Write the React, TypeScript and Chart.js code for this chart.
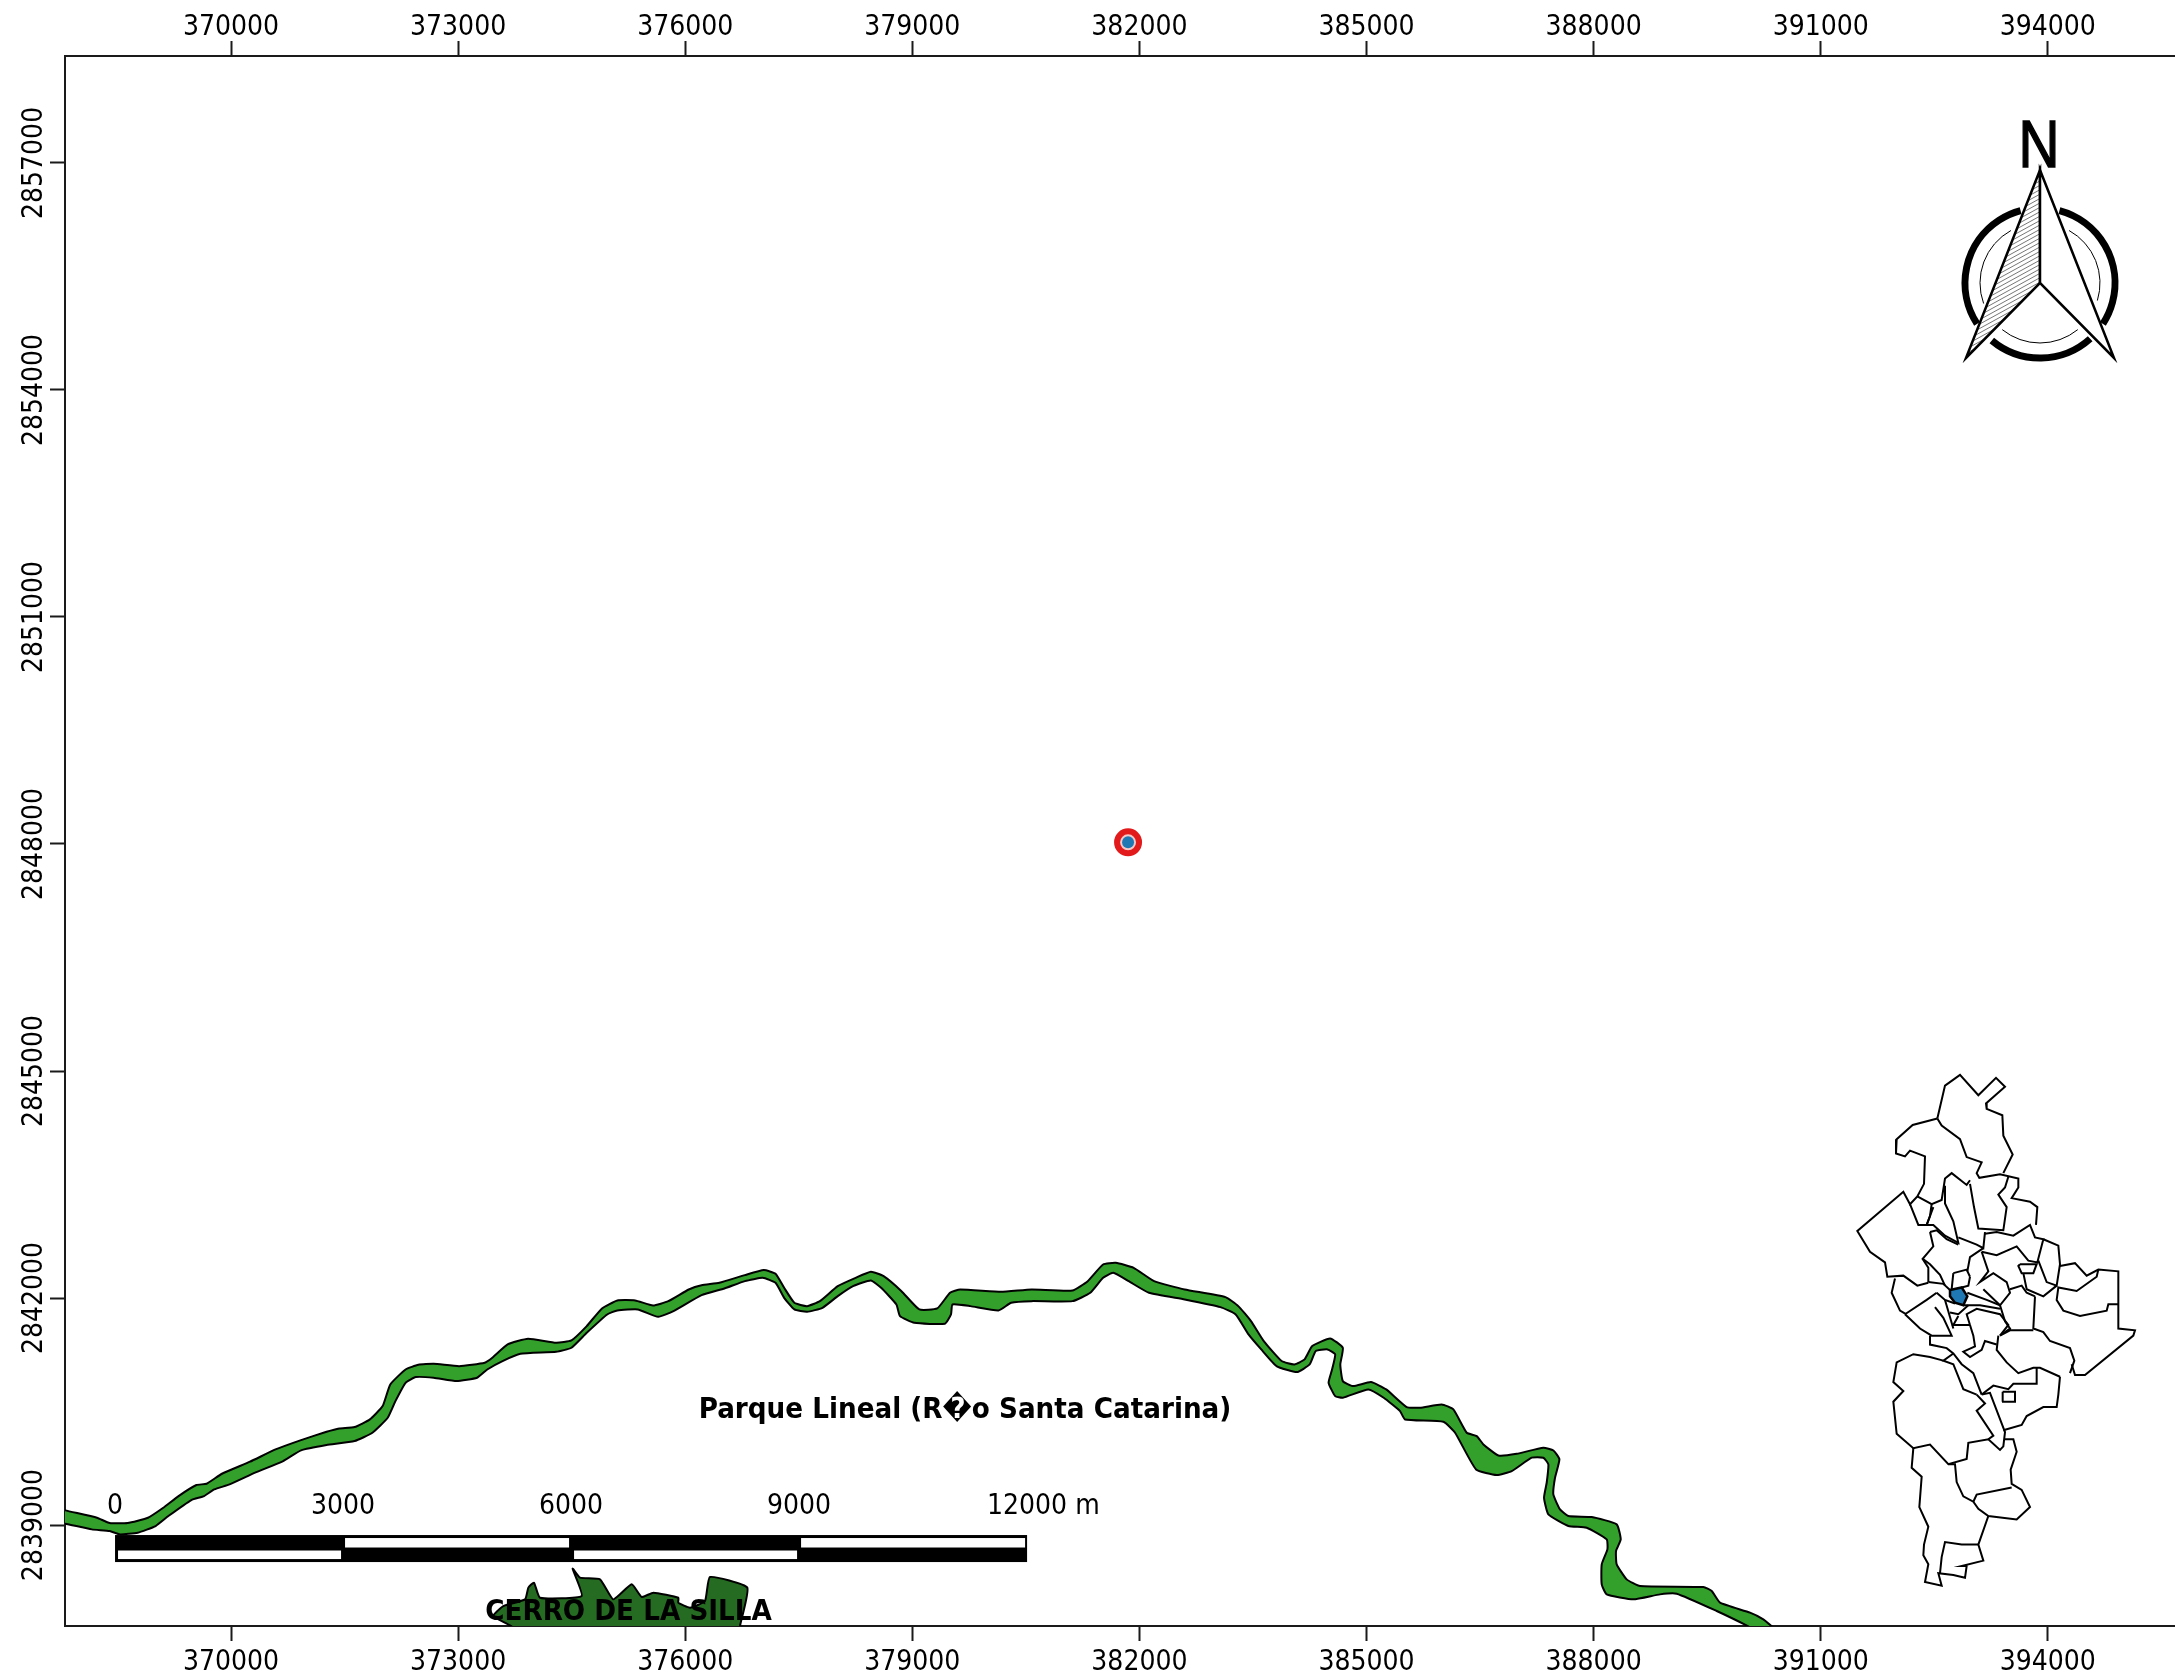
import React, { useEffect, useRef } from "react";
import { Chart, registerables } from "chart.js";

Chart.register(...registerables);

const FONT = '"DejaVu Sans Condensed", "DejaVu Sans", sans-serif';

// UTM easting / northing limits of the map frame
const xRange = [367807, 395680];
const yRange = [2837666, 2858413];
const xTicks = [370000, 373000, 376000, 379000, 382000, 385000, 388000, 391000, 394000];
const yTicks = [2839000, 2842000, 2845000, 2848000, 2851000, 2854000, 2857000];

// Río Santa Catarina, north bank [easting, northing]
const riverNorth = [
  [367700, 2839230], [367811, 2839194], [368229, 2839097], [368397, 2839027], [368633, 2839027], [368903, 2839097],
  [369105, 2839229], [369307, 2839383], [369543, 2839529], [369678, 2839546], [369880, 2839678], [370251, 2839837],
  [370588, 2839999], [370925, 2840123], [371262, 2840233], [371430, 2840277], [371632, 2840295], [371835, 2840396],
  [372003, 2840572], [372104, 2840858], [372306, 2841056], [372475, 2841118], [372677, 2841131], [373014, 2841100],
  [373351, 2841145], [373452, 2841211], [373654, 2841387], [373924, 2841462], [374295, 2841409], [374497, 2841440],
  [374699, 2841629], [374901, 2841862], [375104, 2841968], [375339, 2841968], [375575, 2841902], [375777, 2841959],
  [376047, 2842113], [376216, 2842170], [376451, 2842201], [376788, 2842303], [377038, 2842369], [377193, 2842320],
  [377307, 2842135], [377442, 2841937], [377610, 2841893], [377779, 2841959], [378015, 2842157], [378251, 2842267],
  [378453, 2842347], [378621, 2842289], [378857, 2842091], [379093, 2841849], [379329, 2841862], [379498, 2842069],
  [379632, 2842113], [380172, 2842082], [380576, 2842113], [381115, 2842100], [381317, 2842223], [381520, 2842443],
  [381688, 2842465], [381924, 2842399], [382194, 2842223], [382598, 2842113], [383137, 2842012], [383306, 2841893],
  [383474, 2841695], [383643, 2841431], [383879, 2841167], [384047, 2841123], [384182, 2841189], [384283, 2841365],
  [384519, 2841466], [384687, 2841343], [384654, 2841123], [384687, 2840902], [384822, 2840836], [385058, 2840889],
  [385260, 2840792], [385530, 2840559], [385707, 2840550], [385993, 2840594], [386147, 2840528], [386324, 2840220],
  [386456, 2840176], [386544, 2840066], [386742, 2839920], [386984, 2839942], [387336, 2840022], [387469, 2839986],
  [387548, 2839868], [387490, 2839625], [387468, 2839405], [387556, 2839207], [387666, 2839119], [387975, 2839106],
  [388305, 2839009], [388358, 2838811], [388296, 2838657], [388305, 2838481], [388437, 2838282], [388613, 2838194],
  [389450, 2838181], [389560, 2838128], [389670, 2837974], [390066, 2837842], [390242, 2837754], [390352, 2837662],
  [390462, 2837556],
];

// Río Santa Catarina, south bank [easting, northing]
const riverSouth = [
  [367700, 2839030], [367811, 2839018], [368161, 2838943], [368397, 2838921], [368532, 2838877], [368768, 2838899],
  [369004, 2838987], [369172, 2839119], [369476, 2839331], [369644, 2839383], [369779, 2839471], [369981, 2839537],
  [370318, 2839692], [370689, 2839846], [370925, 2839987], [371262, 2840057], [371632, 2840110], [371868, 2840220],
  [372070, 2840418], [372172, 2840638], [372306, 2840880], [372441, 2840955], [372677, 2840946], [372980, 2840902],
  [373250, 2840946], [373385, 2841056], [373587, 2841167], [373823, 2841263], [374295, 2841290], [374497, 2841343],
  [374699, 2841541], [374969, 2841783], [375104, 2841836], [375373, 2841849], [375643, 2841752], [375845, 2841827],
  [376216, 2842038], [376519, 2842126], [376788, 2842223], [377024, 2842267], [377193, 2842201], [377307, 2842003],
  [377442, 2841849], [377610, 2841818], [377813, 2841871], [378015, 2842025], [378217, 2842157], [378453, 2842232],
  [378588, 2842135], [378790, 2841915], [378837, 2841761], [379026, 2841673], [379430, 2841660], [379511, 2841783],
  [379531, 2841915], [379767, 2841893], [380138, 2841836], [380306, 2841937], [380576, 2841959], [381115, 2841959],
  [381351, 2842069], [381520, 2842267], [381654, 2842333], [381857, 2842223], [382126, 2842069], [382598, 2841981],
  [383070, 2841880], [383272, 2841783], [383441, 2841519], [383609, 2841321], [383811, 2841101], [384081, 2841021],
  [384249, 2841123], [384330, 2841299], [384485, 2841321], [384586, 2841255], [384539, 2841035], [384499, 2840880],
  [384586, 2840704], [384687, 2840682], [385024, 2840792], [385227, 2840682], [385443, 2840506], [385509, 2840396],
  [386015, 2840365], [386170, 2840220], [386447, 2839735], [386720, 2839661], [386918, 2839713], [387182, 2839890],
  [387336, 2839890], [387402, 2839802], [387380, 2839559], [387345, 2839361], [387402, 2839141], [387666, 2838987],
  [387909, 2838965], [388173, 2838811], [388182, 2838679], [388107, 2838481], [388107, 2838216], [388173, 2838084],
  [388525, 2838018], [388877, 2838084], [389098, 2838093], [389626, 2837864], [390044, 2837662], [390242, 2837556],
];

// Cerro de la Silla outline [easting, northing]
const cerroSilla = [
  [373729, 2837468], [373729, 2837644], [373465, 2837798], [373597, 2837930], [373884, 2838018], [373928, 2838173],
  [374002, 2838239], [374082, 2838040], [374632, 2838062], [374513, 2838424], [374610, 2838305], [374874, 2838283],
  [375050, 2838018], [375293, 2838217], [375425, 2838049], [375579, 2838107], [375909, 2838040], [375909, 2837974],
  [376063, 2837908], [376261, 2837996], [376327, 2838313], [376820, 2838173], [376724, 2837666], [376715, 2837468],
];

// The point of interest [easting, northing]
const sitePoint = [[381850, 2848022]];

// Scale bar
const scaleStops = [0, 3012, 6024, 9036, 12048];
const scaleLabels = ["0", "3000", "6000", "9000", "12000"];
const scaleUnit = " m";
const scaleOrigin = [368468, 2838868, 2838690, 2838511];

// Map labels
const parqueLabel = { text: "Parque Lineal (R\uFFFDo Santa Catarina)", x: 379696, y: 2840519 };
const cerroLabel = { text: "CERRO DE LA SILLA", x: 375251, y: 2837850 };

// Inset locator map: its own coordinate frame
const insetXRange = [-5295, 1035];
const insetYRange = [-2783, 1613];
const insetBoundaries = [
  [[322,192],[345,100],[390,70],[445,127],[498,78],[525,103],[468,150],[470,165],[517,183],[520,240],[548,293],[520,345]],
  [[322,192],[248,210],[200,250],[198,290],[225,298],[240,282],[285,298],[282,375],[262,410],[240,432],[220,397],[82,507],[120,565],[165,595],[172,635],[220,632],[262,660],[295,652]],
  [[322,192],[335,212],[390,250],[410,300],[455,315],[440,345],[448,358],[510,348],[565,360],[565,385],[545,415],[600,425],[622,440],[618,490]],
  [[262,410],[305,432],[335,420],[345,360],[365,345],[410,378],[420,365]],
  [[420,375],[432,440],[445,500],[520,505],[530,440],[505,405],[525,385],[535,355]],
  [[345,380],[345,430],[370,480],[385,540],[345,520],[310,490],[290,490],[310,440]],
  [[240,432],[265,490],[290,490],[300,465],[305,432]],
  [[385,525],[440,545],[460,555],[465,510]],
  [[300,510],[320,505],[350,530],[385,545]],
  [[300,510],[310,550],[278,585],[300,600],[330,630],[345,660]],
  [[278,585],[295,610],[295,650]],
  [[195,640],[185,680],[210,730],[228,740]],
  [[460,555],[420,580],[412,620]],
  [[455,565],[475,620],[450,650],[490,625],[530,650],[540,680],[510,715],[460,670]],
  [[455,565],[500,575],[560,550],[595,590],[622,595],[640,530],[615,525],[600,490],[550,520],[500,510],[465,515]],
  [[640,530],[685,548],[690,600],[680,660],[650,650],[625,590]],
  [[570,600],[620,600],[610,625],[575,625],[565,605],[570,600]],
  [[690,605],[735,597],[770,632],[805,615],[865,620],[865,780],[915,785],[910,800],[765,910],[735,910],[725,880]],
  [[805,615],[800,635],[740,675],[685,665],[680,700],[700,730],[750,745],[830,730],[835,712],[865,712]],
  [[580,625],[590,670],[640,690],[680,660]],
  [[615,690],[610,780],[640,790],[660,815],[720,835],[733,870],[720,905]],
  [[540,670],[575,660],[590,680],[615,690]],
  [[510,715],[525,760],[540,780],[510,800],[540,785],[610,785]],
  [[505,800],[500,840],[530,875],[565,905],[610,890],[630,890],[690,915]],
  [[690,915],[685,965],[680,1000],[640,1000],[590,1025],[575,1050],[520,1065]],
  [[295,650],[340,655],[360,672]],
  [[412,680],[470,700],[510,715]],
  [[400,715],[450,715],[510,725]],
  [[420,635],[415,660],[395,665]],
  [[370,625],[410,615],[420,635]],
  [[370,625],[365,670]],
  [[225,740],[290,700],[320,680]],
  [[225,740],[270,780],[305,800],[365,800],[340,750],[315,720]],
  [[320,680],[345,700],[375,710]],
  [[345,700],[370,780]],
  [[300,800],[300,825],[350,835],[370,850],[395,880],[430,905],[455,965]],
  [[370,850],[340,870],[370,880],[400,950],[440,965]],
  [[360,735],[385,740],[415,715]],
  [[385,745],[370,770],[420,770]],
  [[420,770],[410,740],[440,725],[510,740],[535,770],[510,800]],
  [[420,770],[430,800],[435,830],[400,845],[420,860],[455,840],[465,815],[500,825]],
  [[340,870],[300,860],[250,852],[200,875],[190,930],[220,955],[190,985],[200,1075],[250,1115],[300,1105],[355,1160],[410,1145],[415,1100],[475,1090],[510,1120],[520,1110],[525,1070],[480,960],[455,965]],
  [[440,965],[465,990],[440,1010],[490,1080],[475,1090]],
  [[455,965],[490,940],[535,950],[550,935],[620,935],[620,890]],
  [[518,957],[555,957],[555,985],[516,985],[518,957]],
  [[525,1090],[550,1090],[560,1125],[542,1175],[545,1215],[575,1232],[600,1280],[560,1315],[475,1305],[445,1285],[430,1265],[400,1250],[380,1210],[375,1160],[355,1160]],
  [[545,1225],[440,1245],[430,1265]],
  [[250,1115],[245,1170],[275,1195],[268,1280],[295,1335],[282,1385],[280,1415],[295,1440],[285,1490],[335,1500],[325,1465],[370,1470],[405,1478],[410,1445],[395,1445],[460,1430],[445,1385],[475,1305]],
  [[445,1385],[395,1385],[345,1378],[335,1420],[330,1465]],
];
const insetHighlight = [[360,672],[395,665],[412,690],[400,715],[375,708],[360,690],[360,672]];

const toPoints = (pairs: number[][]) => pairs.map(([x, y]) => ({ x, y }));

const mapLabelsPlugin = {
  id: "mapLabels",
  afterDatasetsDraw(chart: any) {
    const { ctx, scales } = chart;
    const sx = scales.x;
    const sy = scales.y;
    ctx.save();
    ctx.textAlign = "center";
    ctx.textBaseline = "middle";
    ctx.fillStyle = "#000";
    ctx.font = `bold 29.2px ${FONT}`;
    ctx.fillText(parqueLabel.text, sx.getPixelForValue(parqueLabel.x), sy.getPixelForValue(parqueLabel.y));
    ctx.fillText(cerroLabel.text, sx.getPixelForValue(cerroLabel.x), sy.getPixelForValue(cerroLabel.y));

    // rotated northing tick labels
    ctx.font = `28px ${FONT}`;
    yTicks.forEach((t) => {
      ctx.save();
      ctx.translate(35, sy.getPixelForValue(t));
      ctx.rotate(-Math.PI / 2);
      ctx.fillText(String(t), 0, 0);
      ctx.restore();
    });

    // scale bar
    const [x0, yTop, yMid, yBottom] = scaleOrigin;
    const top = sy.getPixelForValue(yTop);
    const mid = sy.getPixelForValue(yMid);
    const bottom = sy.getPixelForValue(yBottom);
    const stops = scaleStops.map((s) => sx.getPixelForValue(x0 + s));
    ctx.fillStyle = "#000";
    ctx.fillRect(stops[0], top, stops[4] - stops[0], bottom - top);
    ctx.fillStyle = "#fff";
    for (let i = 0; i < 4; i++) {
      if (i % 2 === 1) ctx.fillRect(stops[i] + 2, top + 3, stops[i + 1] - stops[i] - 4, mid - top - 4);
      else ctx.fillRect(stops[i] + 3, mid + 2, stops[i + 1] - stops[i] - 5, bottom - mid - 5);
    }
    ctx.fillStyle = "#000";
    ctx.font = `28px ${FONT}`;
    scaleLabels.forEach((t, i) => {
      ctx.textAlign = "center";
      ctx.fillText(t, stops[i], top - 28);
      if (i === scaleLabels.length - 1) {
        const w = ctx.measureText(t).width;
        ctx.textAlign = "left";
        ctx.fillText(scaleUnit, stops[i] + w / 2, top - 28);
      }
    });

    // north arrow
    const cx = 2040;
    const cy = 283;
    const rad = (d: number) => (d * Math.PI) / 180;
    ctx.strokeStyle = "#000";
    ctx.lineCap = "butt";
    ctx.lineWidth = 7;
    [[-75, 33], [48, 130], [147, 255]].forEach(([a, b]) => {
      ctx.beginPath();
      ctx.arc(cx, cy, 75, rad(a), rad(b));
      ctx.stroke();
    });
    ctx.lineWidth = 1;
    [[-61, 17], [51, 129], [160, 241]].forEach(([a, b]) => {
      ctx.beginPath();
      ctx.arc(cx, cy, 60, rad(a), rad(b));
      ctx.stroke();
    });
    const apex = [cx, 170];
    const left = [1966, 358];
    const right = [2114, 358];
    const inner = [cx, 283];
    const wing = (p: number[]) => {
      ctx.beginPath();
      ctx.moveTo(apex[0], apex[1]);
      ctx.lineTo(p[0], p[1]);
      ctx.lineTo(inner[0], inner[1]);
      ctx.closePath();
    };
    wing(left);
    ctx.fillStyle = "#fff";
    ctx.fill();
    ctx.save();
    ctx.clip();
    ctx.strokeStyle = "#777";
    ctx.lineWidth = 1;
    for (let y = 160; y < 460; y += 4.4) {
      ctx.beginPath();
      ctx.moveTo(1950, y);
      ctx.lineTo(2050, y - 55);
      ctx.stroke();
    }
    ctx.restore();
    ctx.lineWidth = 2.5;
    ctx.lineJoin = "miter";
    wing(left);
    ctx.stroke();
    wing(right);
    ctx.fillStyle = "#fff";
    ctx.fill();
    ctx.stroke();
    ctx.fillStyle = "#000";
    ctx.textAlign = "center";
    ctx.textBaseline = "alphabetic";
    ctx.font = '66px "Liberation Sans", sans-serif';
    ctx.save();
    ctx.translate(2039, 167);
    ctx.scale(0.86, 1);
    ctx.lineWidth = 1.5;
    ctx.strokeText("N", 0, 0);
    ctx.fillText("N", 0, 0);
    ctx.restore();
    ctx.restore();
  },
};

const polygon = (data: number[][], fill: string, label: string) => ({
  type: "scatter",
  label,
  data: toPoints(data),
  showLine: true,
  fill: "shape",
  backgroundColor: fill,
  borderColor: "#000",
  borderWidth: 2,
  pointRadius: 0,
  tension: 0.15,
  clip: 0,
});

const noPadding = (s: any) => {
  s.paddingLeft = 0;
  s.paddingRight = 0;
  s.paddingTop = 0;
  s.paddingBottom = 0;
};

export default function App() {
  const ref = useRef<HTMLCanvasElement>(null);
  useEffect(() => {
    document.body.style.margin = "0";
    const canvas = ref.current!;
    const axisStyle = {
      type: "linear",
      min: xRange[0],
      max: xRange[1],
      afterBuildTicks: (s: any) => { s.ticks = xTicks.map((value) => ({ value })); },
      grid: { display: true, drawOnChartArea: false, drawTicks: true, tickLength: 15, tickWidth: 2, tickColor: "#1a1a1a" },
      border: { display: true, color: "#1a1a1a", width: 2 },
      ticks: {
        autoSkip: false,
        maxRotation: 0,
        minRotation: 0,
        padding: 4,
        color: "#000",
        font: { family: FONT, size: 28 },
        callback: (v: any) => String(v),
      },
    };
    const chart = new Chart(canvas, {
      type: "scatter",
      data: {
        datasets: [
          {
            label: "Sitio (centro)",
            data: toPoints(sitePoint),
            pointRadius: 6,
            pointBackgroundColor: "#1f78b4",
            pointBorderWidth: 0,
            showLine: false,
          },
          {
            label: "Sitio (buffer)",
            data: toPoints(sitePoint),
            pointRadius: 11,
            pointBackgroundColor: "#f7c8c8",
            pointBorderColor: "#e31a1c",
            pointBorderWidth: 6,
            showLine: false,
          },
          polygon(cerroSilla, "#256b22", "Cerro de la Silla"),
          polygon([...riverNorth, ...[...riverSouth].reverse()], "#33a02c", "Parque Lineal"),
          {
            ...polygon(insetHighlight, "#1f78b4", "Municipio"),
            xAxisID: "insetX",
            yAxisID: "insetY",
            borderWidth: 2.5,
            tension: 0,
          },
          ...insetBoundaries.map((line, i) => ({
            type: "scatter",
            label: `Límite ${i + 1}`,
            data: toPoints(line),
            xAxisID: "insetX",
            yAxisID: "insetY",
            showLine: true,
            fill: false,
            borderColor: "#000",
            borderWidth: 2,
            pointRadius: 0,
            tension: 0,
          })),
        ] as any,
      },
      options: {
        animation: false,
        responsive: false,
        devicePixelRatio: 1,
        layout: { padding: 0, autoPadding: false },
        plugins: { legend: { display: false }, tooltip: { enabled: false }, title: { display: false } },
        scales: {
          x: {
            ...axisStyle,
            position: "bottom",
            ticks: { ...axisStyle.ticks, padding: 5 },
            afterFit: (s: any) => { s.height = 52; noPadding(s); },
          },
          xTop: {
            ...axisStyle,
            position: "top",
            ticks: { ...axisStyle.ticks, padding: -4 },
            afterFit: (s: any) => { s.height = 56; noPadding(s); },
          },
          y: {
            ...axisStyle,
            position: "left",
            min: yRange[0],
            max: yRange[1],
            afterBuildTicks: (s: any) => { s.ticks = yTicks.map((value) => ({ value })); },
            ticks: { ...axisStyle.ticks, display: false },
            afterFit: (s: any) => { s.width = 65; noPadding(s); },
          },
          insetX: { type: "linear", display: false, min: insetXRange[0], max: insetXRange[1] },
          insetY: { type: "linear", display: false, reverse: true, min: insetYRange[0], max: insetYRange[1] },
        },
      } as any,
      plugins: [mapLabelsPlugin],
    } as any);
    return () => chart.destroy();
  }, []);
  return (
    <canvas
      ref={ref}
      width={2175}
      height={1678}
      style={{ position: "fixed", top: 0, left: 0, width: 2175, height: 1678, display: "block", background: "#fff" }}
    />
  );
}
